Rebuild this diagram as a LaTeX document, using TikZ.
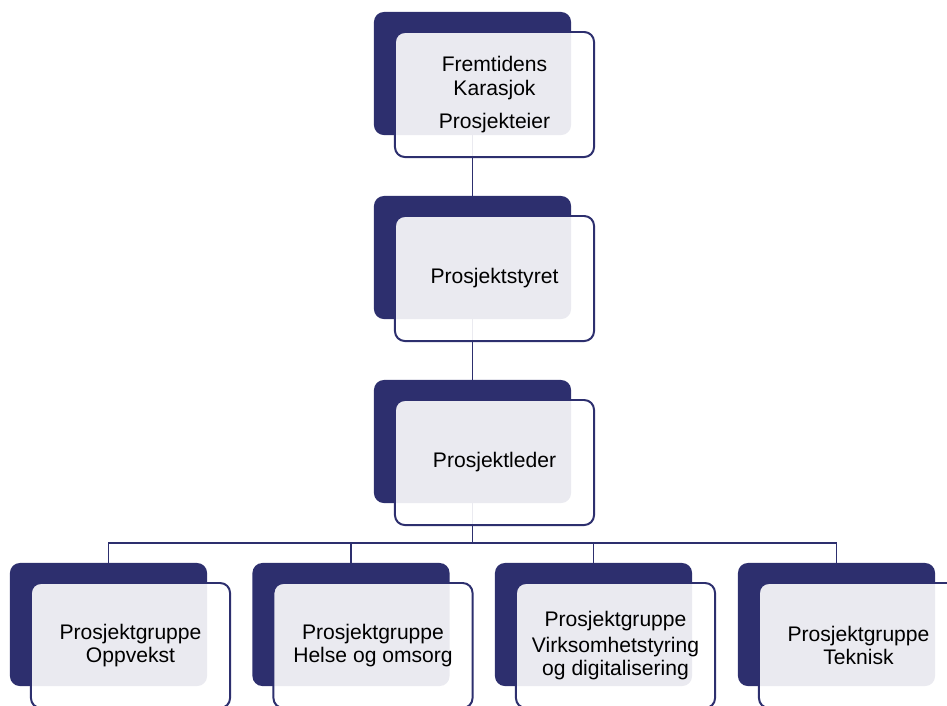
\documentclass[tikz,border=0pt]{standalone}
\usepackage{fontspec}
\setmainfont{Liberation Sans}
\usetikzlibrary{positioning}
\definecolor{navy}{RGB}{45,47,110}

\begin{document}
\begin{tikzpicture}[x=0.025cm,y=-0.025cm,
	back/.style={fill=navy,rounded corners=7pt,inner sep=0pt,minimum width=4.925cm,minimum height=3.075cm},
	front/.style={draw=navy,line width=1.4pt,fill=white,fill opacity=0.9,text opacity=1,rounded corners=7pt,inner sep=0pt,minimum width=4.975cm,minimum height=3.125cm,align=center,font=\fontsize{15}{16.5}\selectfont},
	link/.style={draw=navy,line width=1.4pt}]

	\useasboundingbox (0,0) rectangle (947,705);

	% dark boxes
	\node[back] (eier) at (472.5,73.5) {};
	\node[back] (styre) at (472.5,257.5) {};
	\node[back] (leder) at (472.5,441.5) {};
	\node[back] (g1) at (108.5,624.5) {};
	\node[back] (g2) at (351,624.5) {};
	\node[back] (g3) at (593.5,624.5) {};
	\node[back] (g4) at (836.5,624.5) {};

	% lines
	\coordinate (bus) at (472.5,543);
	\draw[link] (eier.south) -- (styre.north);
	\draw[link] (styre.south) -- (leder.north);
	\draw[link] (leder.south) -- (bus);
	\draw[link] (g1.north) -- (g1.north |- bus) -- (g4.north |- bus) -- (g4.north);
	\draw[link] (g2.north) -- (g2.north |- bus);
	\draw[link] (g3.north) -- (g3.north |- bus);

	% front boxes
	\node[front] (eierF) at ([shift={(22,21)}]eier.center) {Fremtidens\\Karasjok\\[7pt]Prosjekteier};
	\node[front] (styreF) at ([shift={(22,21)}]styre.center) {Prosjektstyret};
	\node[front] (lederF) at ([shift={(22,21)}]leder.center) {Prosjektleder};
	\node[front] (g1F) at ([shift={(22,21)}]g1.center) {Prosjektgruppe\\Oppvekst};
	\node[front] (g2F) at ([shift={(22,21)}]g2.center) {Prosjektgruppe\\Helse og omsorg};
	\node[front] (g3F) at ([shift={(22,21)}]g3.center) {Prosjektgruppe\\[2pt]Virksomhetstyring\\og digitalisering};
	\node[front] (g4F) at ([shift={(22,21)}]g4.center) {Prosjektgruppe\\Teknisk};

\end{tikzpicture}
\end{document}
